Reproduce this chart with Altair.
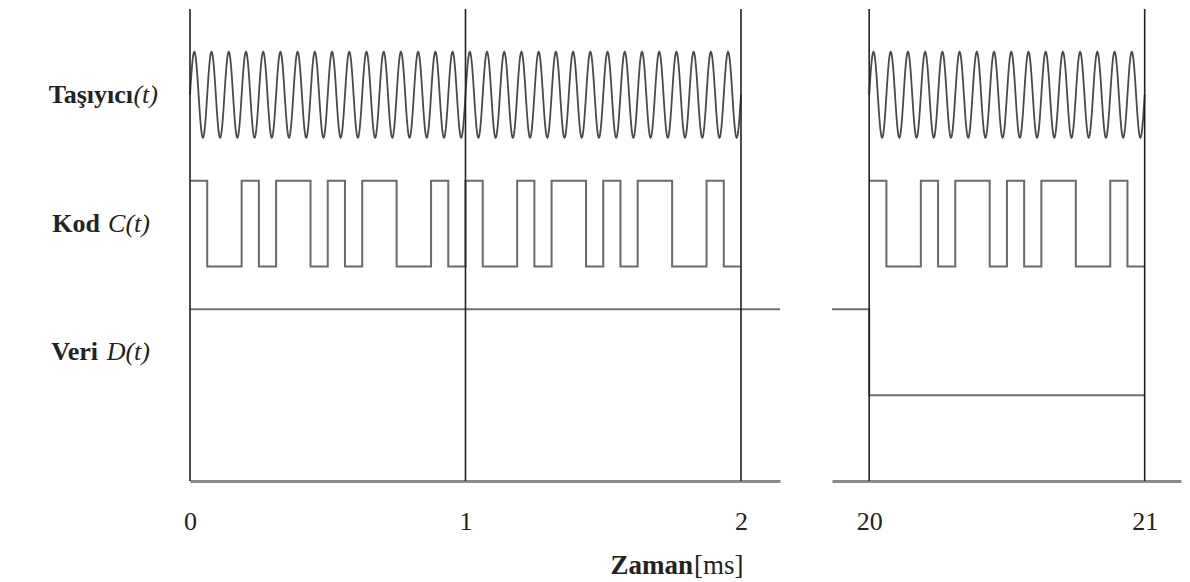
import altair as alt
import numpy as np
import pandas as pd

# ---- values ----
CARRIER_CYCLES_PER_MS = 16            # carrier cycles in one millisecond
CODE_CHIPS = [1, 0, 0, 1, 0, 1, 1, 0, 1, 0, 1, 1, 0, 0, 1, 0]  # one code period (1 ms)
CODE_PERIOD_MS = 1.0
LEFT_CODE_STARTS = [0, 1]             # code periods drawn in left panel
RIGHT_CODE_STARTS = [20]              # code periods drawn in right panel
LEFT_CARRIER = [0, 2]
RIGHT_CARRIER = [20, 21]
DATA_LEFT_T = [0.0, 2.1416]
DATA_LEFT_BIT = [1, 1]
DATA_RIGHT_T = [19.865, 20.0, 21.0]
DATA_RIGHT_BIT = [1, -1, -1]
LEFT_TICKS = [0, 1, 2]
RIGHT_TICKS = [20, 21]
LEFT_DOMAIN = [0, 2.1416]
RIGHT_DOMAIN = [19.865, 21.1318]
ROW_NAMES = ["Taşıyıcı", "Kod", "Veri"]
ROW_SYMBOLS = ["(t)", "C(t)", "D(t)"]
ROW_CENTERS = [9, 6, 3]
X_TITLE_BOLD = "Zaman"
X_TITLE_UNIT = "[ms]"

FONT = "Liberation Serif"


def carrier_df(t0, t1):
    t = np.linspace(t0, t1, int((t1 - t0) * CARRIER_CYCLES_PER_MS * 48) + 1)
    return pd.DataFrame({"t": t, "y": ROW_CENTERS[0] + np.sin(2 * np.pi * CARRIER_CYCLES_PER_MS * (t - t0))})


def code_df(starts):
    n = len(CODE_CHIPS)
    rows = []
    for p in starts:
        for k, c in enumerate(CODE_CHIPS):
            rows.append((p + k * CODE_PERIOD_MS / n, ROW_CENTERS[1] + (1 if c else -1)))
    rows.append((starts[-1] + CODE_PERIOD_MS, ROW_CENTERS[1] + (1 if CODE_CHIPS[-1] else -1)))
    return pd.DataFrame(rows, columns=["t", "y"])


def data_df(ts, bits):
    return pd.DataFrame({"t": ts, "y": [ROW_CENTERS[2] + b for b in bits]})


def panel(domain, ticks, carrier, code_starts, dts, dbits, width):
    xaxis = alt.Axis(values=ticks, title=None, ticks=False, grid=False, labelFont=FONT,
                     labelFontSize=26, labelColor="#222", labelPadding=27, format="d",
                     domainColor="#8a8a8a", domainWidth=3, labelFlush=False)
    xs = alt.Scale(domain=domain, nice=False, zero=False)
    ys = alt.Scale(domain=[0, 11], nice=False, zero=False)
    X = alt.X("t:Q", scale=xs, axis=xaxis)
    Y = alt.Y("y:Q", scale=ys, axis=None)

    car = alt.Chart(carrier_df(*carrier)).mark_line(color="#4a4a4a", strokeWidth=1.8).encode(x=X, y=Y)
    cod = alt.Chart(code_df(code_starts)).mark_line(color="#6a6a6a", strokeWidth=2,
                                                     interpolate="step-after").encode(x=X, y=Y)
    dat = alt.Chart(data_df(dts, dbits)).mark_line(color="#707070", strokeWidth=2,
                                                    interpolate="step-after").encode(x=X, y=Y)
    rules_df = pd.DataFrame({"t": ticks, "y": [0] * len(ticks), "y2": [11] * len(ticks)})
    rul = alt.Chart(rules_df).mark_rule(color="#222", strokeWidth=1.6).encode(
        x=X, y=alt.Y("y:Q", scale=ys, axis=None), y2="y2:Q")
    return [dat, cod, car, rul], width


left_layers, lw = panel(LEFT_DOMAIN, LEFT_TICKS, LEFT_CARRIER, LEFT_CODE_STARTS,
                        DATA_LEFT_T, DATA_LEFT_BIT, 590)
right_layers, rw = panel(RIGHT_DOMAIN, RIGHT_TICKS, RIGHT_CARRIER, RIGHT_CODE_STARTS,
                         DATA_RIGHT_T, DATA_RIGHT_BIT, 349)

ys = alt.Scale(domain=[0, 11], nice=False, zero=False)
lab = pd.DataFrame({"name": ROW_NAMES, "sym": ROW_SYMBOLS, "y": ROW_CENTERS,
                    "sx": [-32, -40, -40], "nx": [-57, -90, -92]})
sym_txt = alt.Chart(lab).mark_text(align="right", baseline="middle", font=FONT, fontSize=26,
                                   fontStyle="italic", color="#222").encode(
    x=alt.X("sx:Q", scale=None), y=alt.Y("y:Q", scale=ys, axis=None), text="sym:N")
name_txt = alt.Chart(lab).mark_text(align="right", baseline="middle", font=FONT, fontSize=26,
                                    fontWeight="bold", color="#222").encode(
    x=alt.X("nx:Q", scale=None), y=alt.Y("y:Q", scale=ys, axis=None), text="name:N")

ttl = pd.DataFrame({"a": [X_TITLE_BOLD], "b": [X_TITLE_UNIT]})
t1 = alt.Chart(ttl).mark_text(align="right", baseline="middle", font=FONT, fontSize=27,
                              fontWeight="bold", color="#222").encode(
    x=alt.value(503), y=alt.value(557), text="a:N")
t2 = alt.Chart(ttl).mark_text(align="left", baseline="middle", font=FONT, fontSize=27,
                              color="#222").encode(
    x=alt.value(504), y=alt.value(557), text="b:N")

left = alt.layer(*left_layers, sym_txt, name_txt, t1, t2).properties(width=lw, height=472)
right = alt.layer(*right_layers).properties(width=rw, height=472)

chart = alt.hconcat(left, right, spacing=44).resolve_scale(x="independent").properties(
    padding={"left": 48, "top": 8, "right": 5, "bottom": 5}, background="white"
).configure_view(stroke=None)

chart.save("out.html", embed_options={"renderer": "svg", "actions": False})
